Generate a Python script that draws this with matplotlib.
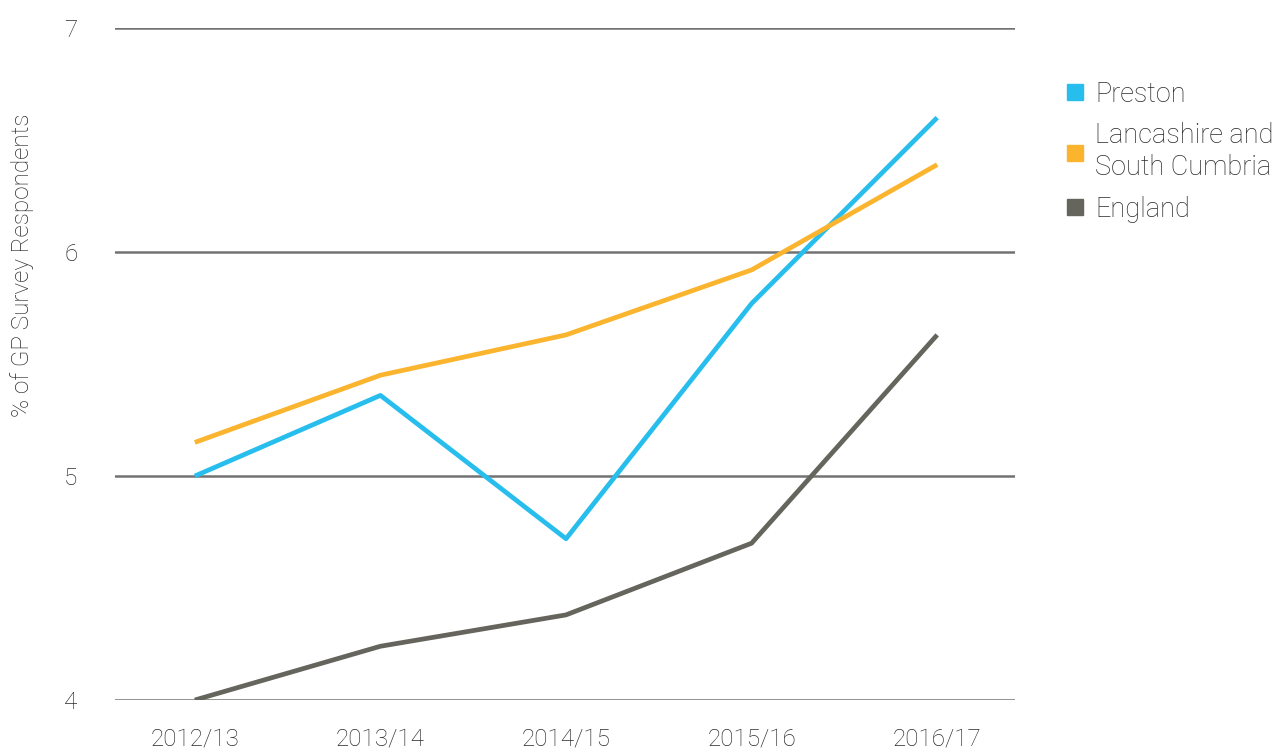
import matplotlib.pyplot as plt
from matplotlib.lines import Line2D

plt.rcParams['font.family'] = ['Roboto', 'DejaVu Sans']

years = ["2012/13", "2013/14", "2014/15", "2015/16", "2016/17"]
preston = [5.00, 5.36, 4.72, 5.77, 6.60]
lancashire = [5.15, 5.45, 5.63, 5.92, 6.39]
england = [4.00, 4.24, 4.38, 4.70, 5.63]

series_names = ["Preston", "Lancashire and\nSouth Cumbria", "England"]
colors = ["#27BEEE", "#FBB42E", "#65655E"]
text_color = "#2a2a2a"

fig = plt.figure(figsize=(12.74, 7.49), dpi=100)
ax = fig.add_axes([0.0903, 0.0654, 0.7065, 0.8972])

x = list(range(len(years)))
for vals, c in zip([preston, lancashire, england], colors):
    ax.plot(x, vals, color=c, linewidth=3.4, solid_capstyle="butt", zorder=3)

ax.set_ylim(4, 7)
ax.set_xlim(-0.43, 4.42)
ax.set_yticks([4, 5, 6, 7])
ax.set_xticks(x)
ax.set_xticklabels(years)
for yv in [4, 5, 6, 7]:
    ax.axhline(yv, color="#727272", linewidth=1.8, zorder=1)

for s in ax.spines.values():
    s.set_visible(False)
ax.tick_params(axis="both", length=0, labelsize=17.5, colors=text_color)
ax.tick_params(axis="y", pad=27)
ax.tick_params(axis="x", pad=20)
for lab in ax.get_xticklabels() + ax.get_yticklabels():
    lab.set_fontweight("light")

ax.set_ylabel("% of GP Survey Respondents", fontsize=17.5, color=text_color,
              fontweight="light")
ax.yaxis.set_label_coords(-0.09, 0.647)

handles = [Line2D([], [], marker="s", linestyle="none", markersize=12,
                  color=c) for c in colors]
leg = fig.legend(handles, series_names, loc="upper left",
                 bbox_to_anchor=(0.815, 0.925), frameon=False,
                 fontsize=19.5, handletextpad=0.3, labelspacing=0.55,
                 handlelength=0.9)
for t in leg.get_texts():
    t.set_fontweight("light")
    t.set_color(text_color)
    t.set_linespacing(1.2)

fig.savefig("out.png", dpi=100)
